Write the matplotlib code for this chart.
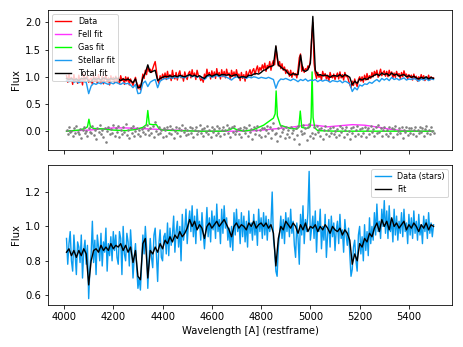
import numpy as np
import matplotlib
matplotlib.use('Agg')
import matplotlib.pyplot as plt

# wavelength grids (restframe, Angstrom)
wave_fine = np.arange(4010, 5501, 5)     # observed data / residuals
wave_fit = np.arange(4010, 5501, 10)     # model curves

# --- top panel -----------------------------------------------------------
data_flux = np.array([
    1.02, 0.90, 1.05, 0.93, 0.99, 0.86, 1.04, 0.92, 0.97, 0.88, 1.03, 0.90, 0.98, 0.85, 1.05, 0.93, 0.99, 1.01, 0.90, 0.96,
    0.98, 0.86, 1.03, 0.92, 0.99, 0.88, 1.04, 0.94, 0.90, 1.01, 0.87, 0.97, 1.03, 0.91, 0.98, 0.85, 1.02, 0.94, 0.99, 0.89,
    1.01, 0.90, 0.98, 0.87, 1.02, 0.93, 0.97, 0.86, 1.00, 0.92, 0.99, 0.85, 0.96, 0.90, 0.84, 0.93, 0.99, 0.88, 0.78, 0.85,
    0.76, 0.90, 1.05, 0.97, 1.12, 1.04, 1.20, 1.10, 1.14, 1.08, 1.15, 1.22, 1.28, 1.12, 0.95, 0.88, 1.02, 0.94, 1.05, 0.97,
    1.07, 0.95, 1.10, 0.97, 1.04, 0.93, 1.12, 1.00, 0.96, 1.08, 0.94, 1.05, 1.11, 0.98, 1.03, 0.92, 1.09, 1.01, 0.95, 1.06,
    1.10, 0.98, 1.13, 1.01, 1.07, 0.95, 1.12, 1.03, 1.00, 0.93, 0.98, 0.90, 1.05, 0.97, 1.14, 1.02, 1.08, 0.96, 1.11, 1.00,
    1.09, 0.97, 1.15, 1.02, 1.08, 0.96, 1.13, 1.00, 1.10, 0.98, 1.14, 1.03, 1.07, 0.95, 1.12, 1.01, 1.09, 0.99, 1.13, 1.02,
    1.05, 0.93, 1.08, 0.97, 1.04, 0.92, 1.10, 0.99, 1.07, 1.13, 1.02, 1.11, 1.15, 1.04, 1.13, 1.20, 1.08, 1.17, 1.12, 1.22,
    1.14, 1.25, 1.10, 1.21, 1.16, 1.28, 1.12, 1.24, 1.30, 1.22, 1.55, 1.35, 1.20, 1.28, 1.15, 1.24, 1.12, 1.18, 1.06, 1.13,
    1.10, 1.01, 1.12, 0.99, 1.08, 1.03, 1.06, 0.98, 1.14, 1.35, 1.42, 1.10, 1.18, 1.08, 1.15, 1.12, 1.20, 1.17, 1.30, 1.70,
    2.00, 1.25, 1.06, 0.97, 1.08, 0.99, 1.04, 0.94, 1.10, 1.01, 1.06, 0.96, 1.03, 0.92, 1.08, 1.00, 0.98, 1.05, 0.95, 1.02,
    1.07, 0.96, 1.09, 0.98, 1.04, 0.94, 1.08, 1.00, 1.02, 0.93, 0.86, 0.80, 0.92, 0.84, 0.96, 0.88, 0.82, 0.95, 1.00, 0.92,
    1.00, 0.90, 1.03, 0.94, 1.06, 0.95, 1.02, 0.97, 1.08, 1.00, 1.10, 1.03, 1.12, 0.99, 1.06, 1.14, 1.02, 1.08, 1.11, 1.01,
    1.10, 1.00, 1.12, 1.04, 1.09, 0.98, 1.07, 0.99, 1.10, 1.02, 1.06, 0.97, 1.08, 1.00, 1.11, 1.03, 1.05, 0.96, 1.04, 0.99,
    1.03, 0.94, 1.05, 0.97, 1.01, 0.92, 1.00, 0.95, 1.04, 0.96, 1.02, 0.93, 0.99, 0.95, 1.03, 0.94, 1.00, 0.96, 0.98,
])

residuals = np.array([
    0.03, -0.05, 0.08, -0.02, 0.01, -0.09, 0.05, -0.04, 0.10, -0.01, -0.06, 0.04, -0.12, 0.02, 0.07, -0.03, 0.00, -0.08, 0.06, -0.02,
    -0.04, 0.09, -0.07, 0.02, -0.15, 0.05, -0.01, 0.11, -0.05, 0.03, -0.10, 0.06, -0.20, 0.01, 0.08, -0.06, 0.04, -0.03, 0.12, -0.08,
    0.05, -0.02, 0.09, -0.11, 0.03, -0.05, 0.07, -0.01, 0.14, -0.07, 0.02, -0.13, 0.06, -0.04, 0.10, -0.08, 0.01, 0.05, -0.06, 0.03,
    -0.09, 0.04, -0.02, 0.08, -0.05, 0.11, 0.02, -0.07, 0.05, -0.03, 0.09, -0.10, 0.17, 0.00, -0.06, 0.07, -0.04, 0.03, -0.11, 0.06,
    0.02, -0.08, 0.07, -0.03, 0.10, -0.06, 0.04, -0.12, 0.01, 0.08, -0.04, 0.05, -0.09, 0.03, 0.11, -0.02, 0.06, -0.07, 0.02, -0.05,
    0.08, -0.04, 0.05, -0.10, 0.03, 0.07, -0.06, 0.01, 0.12, -0.03, 0.04, -0.08, 0.06, -0.01, 0.09, -0.05, 0.02, -0.11, 0.07, -0.02,
    0.04, -0.07, 0.10, -0.03, 0.06, -0.09, 0.02, 0.08, -0.05, 0.03, 0.11, -0.04, 0.05, -0.10, 0.07, -0.02, 0.09, -0.06, 0.01, 0.04,
    -0.05, 0.06, -0.11, 0.02, 0.08, -0.03, 0.05, -0.08, 0.12, -0.01, 0.04, -0.14, 0.07, -0.05, 0.03, 0.09, -0.07, 0.02, -0.10, 0.05,
    0.06, -0.09, 0.02, 0.10, -0.04, 0.07, -0.12, 0.03, 0.15, -0.06, -0.03, -0.18, 0.05, -0.08, 0.09, -0.02, 0.04, -0.13, 0.07, -0.05,
    0.03, -0.10, 0.08, -0.04, 0.02, -0.15, 0.06, -0.07, 0.10, -0.23, 0.01, -0.06, 0.11, -0.03, 0.05, -0.16, 0.08, 0.13, -0.09, -0.04,
    -0.12, 0.07, -0.05, 0.09, -0.02, 0.04, -0.08, 0.06, -0.14, 0.03, 0.10, -0.06, 0.02, -0.09, 0.05, -0.03, 0.08, -0.05, 0.01, -0.10,
    0.04, -0.07, 0.09, -0.02, 0.05, -0.11, 0.03, 0.08, -0.06, 0.01, -0.15, 0.06, -0.03, 0.07, -0.09, 0.02, 0.10, -0.05, 0.04, -0.08,
    0.06, -0.03, 0.08, -0.10, 0.02, 0.05, -0.06, 0.09, -0.02, 0.04, -0.08, 0.07, -0.04, 0.11, -0.01, 0.06, -0.09, 0.03, 0.08, -0.05,
    0.02, -0.08, 0.07, -0.03, 0.05, -0.11, 0.04, 0.09, -0.06, 0.01, 0.06, -0.04, 0.08, -0.12, 0.03, -0.02, 0.07, -0.07, 0.05, -0.03,
    0.06, -0.05, 0.03, 0.08, -0.09, 0.02, -0.04, 0.07, -0.01, 0.05, -0.08, 0.04, 0.09, -0.03, 0.02, -0.06, 0.07, 0.01, -0.04,
])

stellar_fit = np.array([
    0.93, 0.91, 0.94, 0.90, 0.92, 0.89, 0.93, 0.91, 0.90, 0.69,
    0.83, 0.88, 0.86, 0.89, 0.87, 0.90, 0.88, 0.86, 0.89, 0.87,
    0.90, 0.88, 0.86, 0.89, 0.87, 0.88, 0.85, 0.80, 0.86, 0.69,
    0.70, 0.88, 0.92, 0.82, 0.90, 0.93, 0.95, 0.80, 0.92, 0.95,
    0.97, 0.96, 0.99, 0.97, 1.00, 0.98, 1.01, 0.99, 0.98, 1.01,
    1.03, 1.00, 1.02, 0.99, 1.01, 0.98, 0.95, 1.00, 1.02, 0.99,
    1.01, 1.03, 1.00, 1.02, 1.01, 0.99, 0.97, 0.94, 0.98, 1.00,
    0.98, 1.00, 0.99, 0.97, 1.00, 0.98, 1.00, 0.99, 0.97, 0.99,
    0.98, 0.97, 0.99, 0.97, 0.95, 0.79, 0.91, 0.96, 0.95, 0.97,
    0.95, 0.93, 0.96, 0.94, 0.91, 0.95, 0.93, 0.96, 0.92, 0.94,
    0.93, 0.95, 0.91, 0.94, 0.92, 0.94, 0.93, 0.90, 0.93, 0.92,
    0.91, 0.93, 0.89, 0.92, 0.90, 0.87, 0.73, 0.80, 0.76, 0.85,
    0.83, 0.87, 0.86, 0.90, 0.88, 0.92, 0.95, 0.91, 0.97, 0.94,
    0.97, 0.93, 0.99, 0.95, 0.97, 0.94, 0.96, 0.98, 0.94, 0.96,
    0.95, 0.97, 0.95, 0.92, 0.96, 0.94, 0.97, 0.93, 0.96, 0.95,
])

total_fit = np.array([
    0.97, 0.95, 0.97, 0.94, 0.96, 0.93, 0.97, 0.96, 0.98, 0.92,
    0.91, 0.97, 0.95, 0.97, 0.94, 0.98, 0.96, 0.94, 0.97, 0.95,
    0.98, 0.96, 0.93, 0.96, 0.94, 0.96, 0.93, 0.89, 0.96, 0.80,
    0.81, 0.98, 1.07, 1.22, 1.08, 1.10, 1.12, 0.93, 0.97, 0.99,
    1.01, 1.00, 1.02, 1.00, 1.02, 1.00, 1.03, 1.01, 1.00, 1.02,
    1.04, 1.01, 1.03, 1.00, 1.02, 0.99, 0.97, 1.02, 1.04, 1.01,
    1.03, 1.05, 1.02, 1.04, 1.04, 1.03, 1.04, 1.01, 1.03, 1.04,
    0.98, 1.00, 1.00, 0.99, 1.03, 1.02, 1.05, 1.06, 1.05, 1.08,
    1.12, 1.13, 1.18, 1.19, 1.21, 1.57, 1.22, 1.18, 1.14, 1.12,
    1.06, 1.03, 1.06, 1.04, 1.04, 1.40, 1.12, 1.10, 1.13, 1.25,
    2.11, 1.12, 1.03, 1.04, 1.02, 1.03, 1.02, 0.99, 1.02, 1.02,
    1.01, 1.04, 1.00, 1.04, 1.02, 0.99, 0.85, 0.92, 0.88, 0.96,
    0.94, 0.97, 0.95, 0.99, 1.00, 1.03, 1.05, 1.02, 1.07, 1.04,
    1.06, 1.02, 1.07, 1.03, 1.05, 1.01, 1.03, 1.04, 1.00, 1.02,
    0.99, 1.01, 0.98, 0.96, 0.99, 0.97, 1.00, 0.96, 0.99, 0.97,
])

gas_wave = [4010, 4060, 4085, 4095, 4101, 4107, 4120, 4160, 4200, 4250, 4290, 4320,
            4334, 4340, 4346, 4360, 4375, 4385, 4400, 4460, 4550, 4650, 4675, 4686,
            4700, 4730, 4770, 4810, 4850, 4857, 4861, 4866, 4878, 4919, 4945, 4953,
            4959, 4965, 4985, 4999, 5003, 5007, 5011, 5018, 5030, 5100, 5500]
gas_fit = [0.00, 0.02, 0.05, 0.08, 0.22, 0.08, 0.05, 0.04, 0.02, 0.01, 0.03, 0.07,
           0.12, 0.38, 0.13, 0.12, 0.12, 0.05, 0.02, 0.01, 0.00, 0.00, 0.03, 0.06,
           0.03, 0.00, 0.03, 0.11, 0.24, 0.32, 0.74, 0.28, 0.11, 0.05, 0.04, 0.07,
           0.37, 0.07, 0.05, 0.08, 0.25, 1.09, 0.25, 0.06, 0.01, 0.00, 0.00]

fe_wave = [4010, 4050, 4100, 4150, 4200, 4250, 4300, 4350, 4400, 4450, 4500, 4550,
           4700, 4780, 4850, 4920, 4980, 5020, 5070, 5120, 5170, 5220, 5280, 5330,
           5380, 5450, 5500]
fe_fit = [0.00, 0.01, 0.02, 0.04, 0.06, 0.06, 0.05, 0.04, 0.03, 0.02, 0.01, 0.00,
          0.00, 0.01, 0.04, 0.07, 0.11, 0.11, 0.08, 0.10, 0.12, 0.11, 0.07, 0.03,
          0.01, 0.00, 0.00]

# --- bottom panel --------------------------------------------------------
stars_flux = np.array([
    0.93, 0.78, 0.90, 0.97, 0.80, 0.74, 0.95, 0.84, 0.72, 0.91, 0.88, 0.79, 0.95, 0.70, 0.86, 0.92, 0.78, 0.89, 0.58, 0.76,
    0.84, 1.03, 0.79, 0.92, 0.72, 0.95, 0.88, 0.80, 0.96, 0.77, 0.91, 0.85, 0.99, 0.74, 0.90, 0.83, 0.94, 0.80, 0.97, 0.86,
    0.95, 0.82, 0.78, 0.97, 0.93, 0.72, 1.00, 0.84, 0.80, 0.96, 0.91, 0.77, 0.98, 0.86, 0.70, 0.82, 0.90, 0.76, 0.64, 0.70,
    0.63, 0.78, 0.95, 0.84, 1.00, 0.88, 0.64, 0.80, 0.93, 0.82, 0.76, 0.95, 0.99, 0.84, 0.68, 0.90, 0.98, 0.82, 0.80, 0.94,
    0.96, 0.84, 1.02, 0.83, 0.99, 0.89, 0.95, 1.06, 0.85, 0.97, 1.03, 0.88, 1.00, 0.80, 1.07, 0.92, 0.98, 1.10, 0.90, 1.02,
    1.09, 0.97, 1.12, 0.94, 1.06, 0.90, 1.10, 0.99, 1.03, 0.92, 1.08, 0.96, 0.87, 0.97, 1.11, 0.94, 1.05, 0.91, 1.09, 0.98,
    1.06, 0.93, 1.13, 0.97, 1.04, 0.90, 1.10, 0.96, 1.12, 0.99, 1.05, 0.92, 0.99, 0.88, 1.00, 0.86, 1.08, 0.95, 1.10, 0.97,
    1.04, 0.90, 1.08, 0.94, 1.06, 0.91, 1.03, 0.88, 1.09, 0.96, 1.02, 0.92, 1.07, 0.95, 1.03, 0.89, 1.10, 0.97, 1.05, 0.93,
    1.08, 0.95, 1.06, 0.92, 1.04, 0.97, 1.02, 1.20, 0.93, 0.86, 0.74, 0.71, 0.88, 0.96, 1.06, 0.93, 1.04, 0.90, 1.08, 0.97,
    1.05, 0.94, 1.10, 0.96, 1.03, 0.89, 0.82, 1.02, 0.93, 0.78, 1.07, 0.95, 1.12, 0.90, 1.04, 0.97, 1.08, 1.32, 0.92, 0.99,
    1.06, 0.93, 1.09, 0.85, 1.03, 0.97, 1.10, 0.87, 1.00, 0.92, 1.07, 0.82, 0.95, 1.04, 0.88, 1.06, 0.94, 1.02, 0.86, 0.98,
    1.03, 0.90, 1.07, 0.93, 0.98, 0.85, 1.04, 0.95, 0.89, 0.99, 0.84, 0.71, 0.75, 0.88, 0.92, 0.80, 0.74, 0.95, 1.00, 0.84,
    0.94, 0.80, 1.01, 0.86, 0.97, 0.83, 1.05, 0.90, 1.00, 0.92, 1.08, 0.95, 1.13, 0.97, 1.03, 0.93, 1.10, 1.00, 1.15, 0.96,
    1.09, 0.93, 1.12, 0.97, 1.04, 0.91, 1.10, 0.95, 1.06, 0.92, 1.03, 0.96, 1.08, 0.94, 1.10, 0.97, 1.02, 0.90, 1.07, 0.95,
    1.05, 0.93, 1.09, 0.96, 1.03, 0.92, 1.07, 0.95, 1.01, 0.90, 1.06, 0.97, 1.04, 0.93, 1.08, 0.96, 1.02, 0.94, 1.01,
])

stars_fit = np.array([
    0.85, 0.87, 0.83, 0.86, 0.82, 0.86, 0.83, 0.87, 0.84, 0.66,
    0.80, 0.86, 0.87, 0.85, 0.89, 0.86, 0.88, 0.86, 0.90, 0.87,
    0.89, 0.88, 0.90, 0.86, 0.89, 0.85, 0.88, 0.79, 0.86, 0.71,
    0.69, 0.90, 0.93, 0.70, 0.86, 0.84, 0.88, 0.85, 0.90, 0.87,
    0.92, 0.90, 0.94, 0.91, 0.95, 0.93, 0.97, 0.94, 0.96, 0.99,
    1.04, 1.00, 1.03, 0.98, 1.01, 0.99, 0.93, 1.00, 1.02, 0.99,
    1.01, 1.03, 1.00, 1.02, 1.04, 1.01, 0.98, 0.94, 1.00, 1.02,
    0.99, 1.01, 1.00, 0.98, 1.02, 1.00, 1.03, 0.99, 1.01, 1.02,
    1.00, 1.02, 0.99, 1.01, 0.96, 0.77, 0.93, 1.00, 0.98, 1.03,
    1.01, 0.99, 1.02, 1.00, 0.96, 1.01, 0.98, 1.02, 0.97, 1.00,
    0.99, 1.01, 0.97, 1.00, 0.98, 1.01, 0.99, 0.96, 1.00, 0.98,
    0.97, 0.99, 0.95, 0.98, 0.96, 0.92, 0.78, 0.84, 0.80, 0.90,
    0.88, 0.93, 0.91, 0.96, 0.94, 0.99, 1.02, 0.97, 1.04, 1.00,
    1.03, 0.98, 1.05, 1.00, 1.02, 0.99, 1.01, 1.03, 0.98, 1.01,
    0.99, 1.02, 1.00, 0.97, 1.01, 0.99, 1.02, 0.98, 1.01, 1.00,
])

blue = '#0a9cf0'

fig, (ax1, ax2) = plt.subplots(2, 1, sharex=True, figsize=(463 / 72, 347 / 72), dpi=72)
fig.subplots_adjust(left=0.104, right=0.976, top=0.971, bottom=0.121, hspace=0.107)

ax1.plot(wave_fine, data_flux, color='red', lw=1.4, label='Data')
ax1.plot(fe_wave, fe_fit, color='#ff33ff', lw=1.4, label='FeII fit')
ax1.plot(gas_wave, gas_fit, color='lime', lw=1.4, label='Gas fit')
ax1.plot(wave_fit, stellar_fit, color='#1e9bf0', lw=1.4, label='Stellar fit')
ax1.plot(wave_fit, total_fit, color='black', lw=1.4, label='Total fit')
ax1.plot(wave_fine, residuals, 'o', color='gray', ms=2.6, mew=0)
ax1.set_ylabel('Flux')
ax1.set_yticks([0.0, 0.5, 1.0, 1.5, 2.0])
ax1.legend(loc='upper left', fontsize=8)

ax2.plot(wave_fine, stars_flux, color=blue, lw=1.4, label='Data (stars)')
ax2.plot(wave_fit, stars_fit, color='black', lw=1.4, label='Fit')
ax2.set_ylabel('Flux')
ax2.set_xlabel('Wavelength [A] (restframe)')
ax2.set_yticks([0.6, 0.8, 1.0, 1.2])
ax2.set_xticks(range(4000, 5401, 200))
ax2.legend(loc='upper right', fontsize=8)

fig.savefig('out.png', dpi=72)
